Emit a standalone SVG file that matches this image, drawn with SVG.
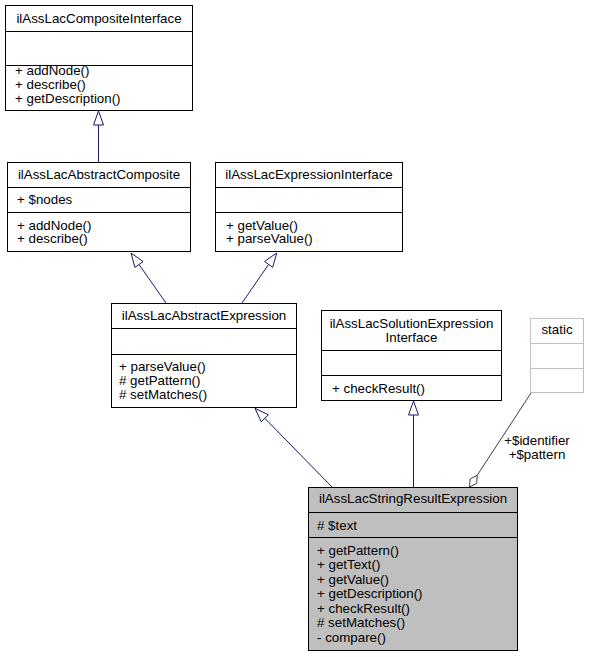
<svg xmlns="http://www.w3.org/2000/svg" width="590" height="657" viewBox="0 0 590 657">
<style>
text{font-family:"Liberation Sans",Arial,Helvetica,sans-serif;font-size:13.33px;fill:#000}
.t{text-anchor:middle}
.box{fill:#fff;stroke:#000;stroke-width:1}
.sep{stroke:#000;stroke-width:1}
.gbox{fill:#fff;stroke:#bfbfbf;stroke-width:1}
.gsep{stroke:#bfbfbf;stroke-width:1}
.cur{fill:#bfbfbf;stroke:#000;stroke-width:1}
.e{stroke:#191970;stroke-width:1;fill:none}
.ah{fill:#fff;stroke:#191970;stroke-width:1}
.ag{stroke:#404040;stroke-width:1;fill:none}
.ad{fill:#fff;stroke:#404040;stroke-width:1}
</style>
<g id="edges">
<line class="e" x1="98.5" y1="162" x2="98.5" y2="125"/>
<polygon class="ah" points="98.5,111 93.5,125 103.5,125"/>
<line class="e" x1="166" y1="303" x2="139" y2="264.5"/>
<polygon class="ah" points="131,253 143.1,261.6 134.9,267.4"/>
<line class="e" x1="242" y1="303" x2="268.6" y2="264.4"/>
<polygon class="ah" points="276.7,253 272.7,267.3 264.5,261.5"/>
<line class="e" x1="332" y1="487" x2="264.8" y2="418.3"/>
<polygon class="ah" points="255,408.3 268.4,414.8 261.2,421.8"/>
<line class="e" x1="413.5" y1="487" x2="413.5" y2="415"/>
<polygon class="ah" points="413.5,401 408.5,415 418.5,415"/>
<line class="ag" x1="531" y1="393" x2="477.2" y2="475.3"/>
<polygon class="ad" points="469.5,487 476.7,483.4 477.2,475.3 470.1,479"/>
<text class="t" x="537" y="445">+$identifier</text>
<text class="t" x="537" y="458.5">+$pattern</text>
</g>
<g id="node1">
<rect class="box" x="5.5" y="5.5" width="187" height="105"/>
<line class="sep" x1="5.5" y1="31.5" x2="192.5" y2="31.5"/>
<line class="sep" x1="5.5" y1="65.5" x2="192.5" y2="65.5"/>
<text class="t" x="99" y="22.5">ilAssLacCompositeInterface</text>
<text x="15" y="75">+ addNode()</text>
<text x="15" y="89">+ describe()</text>
<text x="15" y="103">+ getDescription()</text>
</g>
<g id="node2">
<rect class="box" x="7.5" y="162.5" width="183" height="89"/>
<line class="sep" x1="7.5" y1="187.5" x2="190.5" y2="187.5"/>
<line class="sep" x1="7.5" y1="212.5" x2="190.5" y2="212.5"/>
<text class="t" x="99" y="178.5">ilAssLacAbstractComposite</text>
<text x="17" y="203.5">+ $nodes</text>
<text x="17" y="229.5">+ addNode()</text>
<text x="17" y="243">+ describe()</text>
</g>
<g id="node3">
<rect class="box" x="215.5" y="162.5" width="187" height="89"/>
<line class="sep" x1="215.5" y1="187.5" x2="402.5" y2="187.5"/>
<line class="sep" x1="215.5" y1="212.5" x2="402.5" y2="212.5"/>
<text class="t" x="309" y="178.5">ilAssLacExpressionInterface</text>
<text x="226" y="229.5">+ getValue()</text>
<text x="226" y="243">+ parseValue()</text>
</g>
<g id="node4">
<rect class="box" x="111.5" y="303.5" width="185" height="104"/>
<line class="sep" x1="111.5" y1="328.5" x2="296.5" y2="328.5"/>
<line class="sep" x1="111.5" y1="354.5" x2="296.5" y2="354.5"/>
<text class="t" x="204" y="319.5">ilAssLacAbstractExpression</text>
<text x="119" y="370.5">+ parseValue()</text>
<text x="119" y="384.5"># getPattern()</text>
<text x="119" y="398.5"># setMatches()</text>
</g>
<g id="node5">
<rect class="box" x="321.5" y="310.5" width="180" height="90"/>
<line class="sep" x1="321.5" y1="350.5" x2="501.5" y2="350.5"/>
<line class="sep" x1="321.5" y1="375.5" x2="501.5" y2="375.5"/>
<text class="t" x="411.5" y="328">ilAssLacSolutionExpression</text>
<text class="t" x="411.5" y="341.5">Interface</text>
<text x="332" y="393">+ checkResult()</text>
</g>
<g id="node6">
<rect class="gbox" x="530.5" y="318.5" width="53" height="74"/>
<line class="gsep" x1="530.5" y1="343.5" x2="583.5" y2="343.5"/>
<line class="gsep" x1="530.5" y1="368.5" x2="583.5" y2="368.5"/>
<text class="t" x="557" y="334">static</text>
</g>
<g id="node7">
<rect class="cur" x="308.5" y="487.5" width="209" height="163"/>
<line class="sep" x1="308.5" y1="512.5" x2="517.5" y2="512.5"/>
<line class="sep" x1="308.5" y1="537.5" x2="517.5" y2="537.5"/>
<text class="t" x="413" y="503">ilAssLacStringResultExpression</text>
<text x="317" y="529.5"># $text</text>
<text x="317" y="554.5">+ getPattern()</text>
<text x="317" y="569">+ getText()</text>
<text x="317" y="583.5">+ getValue()</text>
<text x="317" y="598">+ getDescription()</text>
<text x="317" y="612.5">+ checkResult()</text>
<text x="317" y="627"># setMatches()</text>
<text x="317" y="641.5">- compare()</text>
</g>
</svg>
